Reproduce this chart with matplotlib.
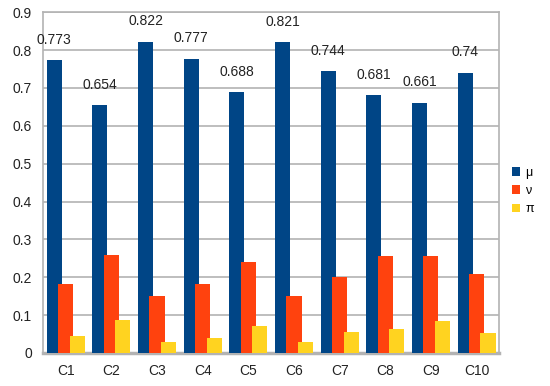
import numpy as np
import matplotlib.pyplot as plt
from matplotlib.ticker import FuncFormatter

# Data
categories = ['C1', 'C2', 'C3', 'C4', 'C5', 'C6', 'C7', 'C8', 'C9', 'C10']
mu = [0.773, 0.654, 0.822, 0.777, 0.688, 0.821, 0.744, 0.681, 0.661, 0.74]
nu = [0.183, 0.258, 0.150, 0.183, 0.240, 0.150, 0.200, 0.255, 0.255, 0.208]
pi = [0.044, 0.088, 0.028, 0.040, 0.072, 0.029, 0.056, 0.064, 0.084, 0.052]

colors = {'mu': '#004586', 'nu': '#ff420e', 'pi': '#ffd320'}
grid_c = '#b3b3b3'

plt.rcParams['font.family'] = ['Liberation Sans', 'DejaVu Sans']

fig = plt.figure(figsize=(5.5, 3.86), dpi=100)
ax = fig.add_axes([0.078, 0.0855, 0.83, 0.883])

x = np.arange(len(categories))
w = 0.33
ax.bar(x - 0.25, mu, w, color=colors['mu'], label='\u03bc', zorder=3)
ax.bar(x, nu, w, color=colors['nu'], label='\u03bd', zorder=4)
ax.bar(x + 0.25, pi, w, color=colors['pi'], label='\u03c0', zorder=5)

# value labels above the mu bars
for xi, v in zip(x, mu):
    ax.text(xi - 0.25, v + 0.035, f'{v:g}', ha='center', va='bottom',
            fontsize=10, color='#222222', zorder=6)

ax.set_xlim(-0.5, len(categories) - 0.5)
ax.set_ylim(0, 0.9)
ax.set_yticks(np.arange(0, 0.91, 0.1))
ax.yaxis.set_major_formatter(FuncFormatter(lambda v, p: f'{v:g}' if v else '0'))
ax.set_xticks(x)
ax.set_xticklabels(categories)
ax.tick_params(length=0, labelsize=10, colors='#222222')
ax.tick_params(axis='x', pad=8)
ax.tick_params(axis='y', pad=8)

ax.grid(axis='y', color=grid_c, lw=1.2, zorder=0)
ax.set_axisbelow(True)
for s in ax.spines.values():
    s.set_color(grid_c)
    s.set_linewidth(1.2)
ax.spines['bottom'].set_linewidth(2.5)

fig.legend(loc='center left', bbox_to_anchor=(0.93, 0.505), frameon=False,
           fontsize=9, handlelength=0.7, handleheight=0.7, handletextpad=0.4,
           labelspacing=0.5, borderaxespad=0, borderpad=0)

fig.savefig('out.png', dpi=100)
